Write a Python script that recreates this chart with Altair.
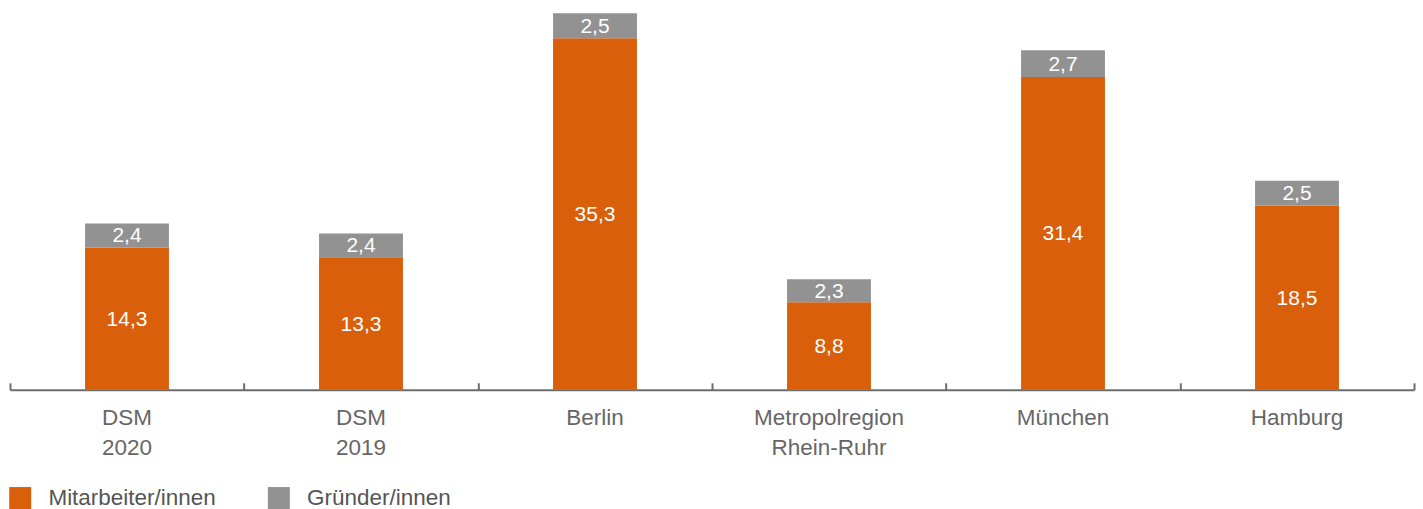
import altair as alt
import pandas as pd

categories = ["DSM 2020", "DSM 2019", "Berlin", "Metropolregion Rhein-Ruhr", "München", "Hamburg"]
mitarbeiter = [14.3, 13.3, 35.3, 8.8, 31.4, 18.5]
gruender = [2.4, 2.4, 2.5, 2.3, 2.7, 2.5]
series_names = ["Mitarbeiter/innen", "Gründer/innen"]
series_colors = ["#D95F0A", "#929292"]

rows = []
for c, m, g in zip(categories, mitarbeiter, gruender):
    rows.append({"cat": c, "series": series_names[0], "value": m, "ord": 0})
    rows.append({"cat": c, "series": series_names[1], "value": g, "ord": 1})
df = pd.DataFrame(rows)

FONT = "Liberation Sans"
H = 377
W = 1406

base = alt.Chart(df).transform_stack(
    stack="value", groupby=["cat"], as_=["y0", "y1"], sort=[alt.SortField("ord")]
).transform_calculate(
    mid="(datum.y0 + datum.y1) / 2",
    lbl="replace(format(datum.value, '.1f'), '.', ',')",
)

xscale = alt.Scale(domain=categories, paddingInner=0, paddingOuter=0)
yscale = alt.Scale(domain=[0, 37.8], nice=False, zero=True)

bars = base.mark_bar(size=84).encode(
    x=alt.X("cat:N", sort=categories, scale=xscale, title=None,
            axis=alt.Axis(orient="bottom", labelExpr="split(datum.value, ' ')",
                          labelAngle=0, tickSize=0, domainColor="#6d6d6d", domainWidth=2,
                          labelFont=FONT, labelFontSize=22.5, labelColor="#666666",
                          labelPadding=17, labelLineHeight=30)),
    y=alt.Y("y0:Q", scale=yscale, axis=None),
    y2="y1:Q",
    color=alt.Color("series:N", scale=alt.Scale(domain=series_names, range=series_colors),
                    title=None,
                    legend=alt.Legend(orient="none", legendX=-1, legendY=474, direction="horizontal",
                                      symbolType="square", symbolSize=484, symbolStrokeWidth=0,
                                      labelFont=FONT, labelFontSize=22.5, labelColor="#555555",
                                      labelLimit=400, labelOffset=17, columnPadding=51,
                                      symbolOpacity=1)),
)

texts = base.mark_text(color="white", font=FONT, fontSize=21, dy=1).encode(
    x=alt.X("cat:N", sort=categories, scale=xscale, title=None,
            axis=alt.Axis(orient="top", offset=-H, labels=False, domain=False,
                          tickBand="extent", tickSize=7, tickColor="#6d6d6d", tickWidth=2)),
    y=alt.Y("mid:Q", scale=yscale, axis=None),
    text="lbl:N",
)

chart = alt.layer(bars, texts).resolve_axis(x="independent").properties(
    width=W, height=H,
    padding={"left": 9, "top": 13, "right": 8, "bottom": 0},
).configure_view(stroke=None)

chart.save("out.html", embed_options={"renderer": "svg", "actions": False})
